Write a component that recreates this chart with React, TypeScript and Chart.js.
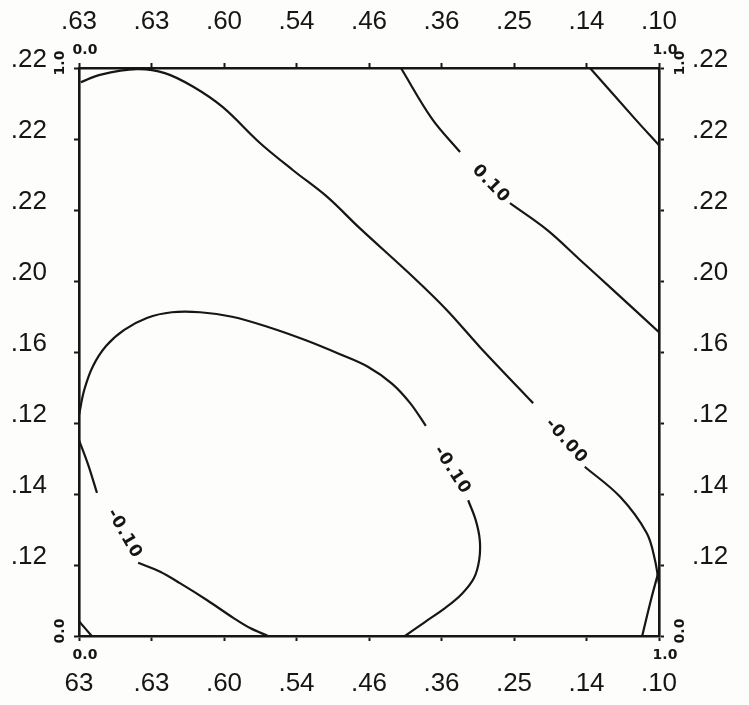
import React, { useEffect, useRef } from "react";
import { Chart, registerables } from "chart.js";

Chart.register(...registerables);

// Tick labels
const xTopLabels = [".63", ".63", ".60", ".54", ".46", ".36", ".25", ".14", ".10"];
const xBottomLabels = ["63", ".63", ".60", ".54", ".46", ".36", ".25", ".14", ".10"];
// y labels from top (y = 1.0) down to y = 0.125
const yLeftLabels = [".22", ".22", ".22", ".20", ".16", ".12", ".14", ".12"];
const yRightLabels = [".22", ".22", ".22", ".20", ".16", ".12", ".14", ".12"];

// Contour lines, [x, y] in the unit square
const level010Upper = [[0.555, 1.0], [0.609, 0.910], [0.657, 0.852]];
const level010Lower = [[0.743, 0.762], [0.807, 0.715], [0.864, 0.662], [0.921, 0.609], [1.0, 0.535]];
const level010Corner = [[0.881, 1.0], [0.959, 0.910], [1.0, 0.864]];

const level000Upper = [
  [0.003, 0.975], [0.036, 0.988], [0.1, 0.998], [0.148, 0.991], [0.197, 0.967],
  [0.248, 0.931], [0.312, 0.868], [0.369, 0.82], [0.428, 0.773], [0.484, 0.718],
  [0.576, 0.632], [0.634, 0.574], [0.691, 0.509], [0.783, 0.41],
];
const level000Lower = [[0.872, 0.298], [0.933, 0.245], [0.979, 0.181], [0.993, 0.134], [1.0, 0.092]];
const level000Edge = [[1.0, 0.116], [0.986, 0.063], [0.971, 0.0]];
const level000Origin = [[0.0, 0.026], [0.022, 0.0]];

const levelM010LoopUpper = [
  [0.0, 0.389], [0.009, 0.433], [0.024, 0.475], [0.047, 0.511], [0.078, 0.539],
  [0.117, 0.56], [0.16, 0.57], [0.209, 0.57], [0.264, 0.562], [0.326, 0.544],
  [0.39, 0.521], [0.45, 0.496], [0.498, 0.474], [0.54, 0.444], [0.571, 0.41], [0.598, 0.37],
];
const levelM010LoopLower = [
  [0.671, 0.239], [0.684, 0.204], [0.691, 0.169], [0.69, 0.134], [0.681, 0.102],
  [0.66, 0.074], [0.631, 0.049], [0.597, 0.025], [0.562, 0.0],
];
const levelM010CornerUpper = [[0.0, 0.345], [0.016, 0.301], [0.031, 0.252]];
const levelM010CornerLower = [
  [0.102, 0.129], [0.14, 0.113], [0.174, 0.093], [0.221, 0.063], [0.266, 0.032],
  [0.295, 0.014], [0.326, 0.0],
];

// Contour level labels: text, anchor (x, y), direction in degrees
const contourLabelTexts = ["0.10", "-0.00", "-0.10", "-0.10"];
const contourLabelAnchors = [[0.71, 0.796], [0.84, 0.343], [0.643, 0.292], [0.078, 0.18]];
const contourLabelAngles = [46, 48, 57, 60];

// End labels of the unit axes
const xEndLabels = ["0.0", "1.0"];
const yEndLabels = ["0.0", "1.0"];

const allLines = [
  level010Upper, level010Lower, level010Corner,
  level000Upper, level000Lower, level000Edge, level000Origin,
  levelM010LoopUpper, levelM010LoopLower, levelM010CornerUpper, levelM010CornerLower,
];

const INK = "#161616";
const tickFont = { family: "'Liberation Sans', Arial, sans-serif", size: 26 };

const decorPlugin = {
  id: "decor",
  beforeDraw(chart: any) {
    const { ctx, width, height } = chart;
    ctx.save();
    ctx.fillStyle = "#fdfdfb";
    ctx.fillRect(0, 0, width, height);
    ctx.restore();
  },
  afterDraw(chart: any) {
    const { ctx, chartArea } = chart;
    const xs = chart.scales.x;
    const ys = chart.scales.y;
    ctx.save();
    ctx.fillStyle = INK;
    ctx.textAlign = "center";
    ctx.textBaseline = "middle";
    ctx.font = "bold 17px 'DejaVu Sans', sans-serif";
    try { (ctx as any).letterSpacing = "1px"; } catch (e) {}
    contourLabelTexts.forEach((t, i) => {
      const px = xs.getPixelForValue(contourLabelAnchors[i][0]);
      const py = ys.getPixelForValue(contourLabelAnchors[i][1]);
      ctx.save();
      ctx.translate(px, py);
      ctx.rotate((contourLabelAngles[i] * Math.PI) / 180);
      ctx.fillText(t, 0, 0);
      ctx.restore();
    });
    try { (ctx as any).letterSpacing = "0px"; } catch (e) {}
    // end labels
    ctx.font = "bold 14px 'DejaVu Sans', sans-serif";
    [0, 1].forEach((v, i) => {
      const px = xs.getPixelForValue(v) + 6;
      ctx.fillText(xEndLabels[i], px, chartArea.top - 18);
      ctx.fillText(xEndLabels[i], px, chartArea.bottom + 19);
    });
    [0, 1].forEach((v, i) => {
      const py = ys.getPixelForValue(v) - 5;
      [chartArea.left - 19, chartArea.right + 21].forEach((px) => {
        ctx.save();
        ctx.translate(px, py);
        ctx.rotate(-Math.PI / 2);
        ctx.fillText(yEndLabels[i], 0, 0);
        ctx.restore();
      });
    });
    ctx.restore();
  },
};

function axis(position: string, callback: (v: any, i: number) => string, padding: number, labelOffset: number, size: number) {
  const horizontal = position === "top" || position === "bottom";
  return {
    type: "linear",
    position,
    min: 0,
    max: 1,
    grid: {
      display: true,
      drawOnChartArea: false,
      drawTicks: true,
      tickLength: 5,
      tickWidth: 2,
      tickColor: INK,
    },
    border: { display: true, color: INK, width: 2.6 },
    ticks: {
      stepSize: 0.125,
      autoSkip: false,
      maxRotation: 0,
      minRotation: 0,
      padding,
      labelOffset,
      color: INK,
      font: tickFont,
      callback,
    },
    afterFit(scale: any) {
      if (horizontal) scale.height = size;
      else scale.width = size;
    },
  };
}

export default function App() {
  const ref = useRef<HTMLCanvasElement | null>(null);
  useEffect(() => {
    if (!ref.current) return;
    const datasets = allLines.map((line) => ({
      data: line.map(([x, y]) => ({ x, y })),
      showLine: true,
      borderColor: INK,
      borderWidth: 2.2,
      pointRadius: 0,
      tension: 0.35,
      fill: false,
    }));
    const chart = new Chart(ref.current, {
      type: "scatter",
      data: { datasets },
      options: {
        animation: false,
        responsive: false,
        maintainAspectRatio: false,
        layout: { padding: 0 },
        plugins: { legend: { display: false }, tooltip: { enabled: false } },
        scales: {
          x: axis("bottom", (_v, i) => xBottomLabels[i] ?? "", 27, 0, 69),
          x2: axis("top", (_v, i) => xTopLabels[i] ?? "", 26, 0, 68),
          y: axis("left", (_v, i) => (i === 0 ? "" : yLeftLabels[8 - i] ?? ""), 27, -8, 79),
          y2: axis("right", (_v, i) => (i === 0 ? "" : yRightLabels[8 - i] ?? ""), 28, -8, 90),
        },
      } as any,
      plugins: [decorPlugin],
    });
    return () => chart.destroy();
  }, []);
  return (
    <div style={{ position: "absolute", left: 0, top: 0, width: 749, height: 705 }}>
      <canvas ref={ref} width={749} height={705} />
    </div>
  );
}
